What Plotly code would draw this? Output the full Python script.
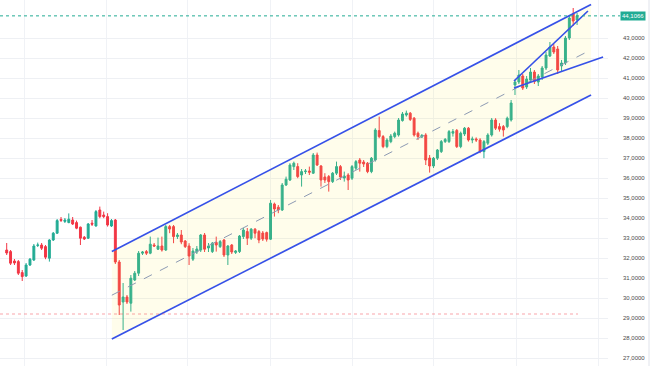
import plotly.graph_objects as go

# ---------------- data (prices) ----------------
opens = [
    32.40, 32.32, 31.85, 31.82, 31.27, 31.10, 31.65, 31.90, 32.63, 32.65,
    32.57, 31.99, 32.90, 33.24, 33.93, 33.83, 33.77, 33.90, 33.77, 33.54,
    33.04, 32.99, 33.74, 33.60, 34.40, 34.15, 34.07, 33.60, 33.90, 31.80,
    29.80, 30.05, 29.74, 30.90, 31.24, 32.24, 32.32, 32.24, 32.65, 32.44,
    32.60, 32.40, 33.57, 33.57, 33.07, 33.15, 32.85, 32.60, 31.94, 32.30,
    32.40, 33.15, 32.50, 32.32, 32.78, 32.57, 32.90, 32.15, 32.65, 32.28,
    32.32, 33.07, 33.32, 32.99, 33.44, 33.32, 33.25, 33.27, 32.94, 34.70,
    34.54, 34.40, 35.65, 35.90, 36.57, 36.57, 36.15, 36.32, 36.35, 36.24,
    37.15, 36.60, 36.05, 36.07, 35.82, 36.24, 36.57, 36.00, 36.15, 35.99,
    36.49, 36.90, 36.80, 36.74, 36.32, 36.90, 38.37, 38.07, 37.57, 37.82,
    38.07, 38.15, 38.87, 39.15, 39.24, 38.99, 38.24, 38.05, 38.15, 37.00,
    36.60, 36.99, 37.32, 37.82, 37.82, 38.24, 38.38, 37.57, 38.20, 38.49,
    37.90, 37.95, 37.90, 37.32, 37.74, 38.15, 38.90, 38.57, 38.57, 38.57,
    38.90, 40.65, 40.80, 41.10, 40.55, 40.90, 41.30, 40.80, 41.05, 41.50,
    42.10, 42.55, 42.45, 41.60, 41.75, 43.00, 44.20, 43.90,
]
highs = [
    32.75, 32.40, 31.95, 31.90, 31.40, 31.75, 32.00, 32.70, 32.77, 32.75,
    32.65, 32.94, 33.30, 33.95, 34.05, 34.00, 34.23, 34.05, 33.87, 33.57,
    33.10, 33.75, 33.90, 34.40, 34.57, 34.32, 34.24, 33.95, 33.95, 31.90,
    30.75, 30.15, 31.15, 31.35, 32.35, 32.35, 32.40, 33.07, 32.75, 33.02,
    33.07, 33.65, 33.65, 33.65, 33.25, 33.40, 32.90, 32.74, 32.50, 32.60,
    33.20, 33.25, 32.75, 32.80, 33.07, 32.90, 32.95, 32.65, 32.70, 32.40,
    33.15, 33.50, 33.50, 33.50, 33.50, 33.40, 33.35, 33.32, 34.90, 34.77,
    34.65, 35.75, 36.07, 36.74, 36.82, 36.74, 36.45, 36.45, 36.57, 37.25,
    37.27, 36.65, 36.24, 36.15, 36.30, 36.82, 36.65, 36.32, 36.24, 36.65,
    36.90, 37.00, 36.90, 36.80, 37.05, 38.49, 39.07, 38.15, 37.99, 38.20,
    38.32, 39.00, 39.30, 39.37, 39.30, 39.05, 38.32, 38.20, 38.24, 37.15,
    37.05, 37.45, 37.90, 38.00, 38.40, 38.45, 38.45, 38.32, 38.55, 38.55,
    38.07, 38.03, 37.99, 37.90, 38.24, 39.00, 38.99, 38.74, 38.65, 39.07,
    39.90, 40.90, 41.40, 41.20, 41.10, 41.50, 41.40, 41.20, 41.60, 42.30,
    42.80, 42.70, 42.60, 41.90, 43.10, 44.10, 44.50, 44.25,
]
lows = [
    32.15, 31.65, 31.65, 31.15, 30.85, 31.05, 31.60, 31.85, 32.55, 32.40,
    31.94, 31.82, 32.85, 33.20, 33.80, 33.75, 33.74, 33.65, 33.44, 32.65,
    32.90, 32.95, 33.60, 33.57, 33.99, 33.99, 33.57, 33.55, 31.70, 29.15,
    28.40, 29.70, 29.32, 30.85, 31.10, 32.15, 32.15, 32.19, 32.55, 32.40,
    32.32, 32.35, 33.24, 32.74, 32.95, 32.69, 32.50, 31.65, 31.85, 32.20,
    32.30, 32.30, 32.30, 32.25, 32.32, 32.50, 32.05, 31.65, 32.20, 32.20,
    32.25, 32.95, 32.65, 32.90, 32.99, 32.74, 32.85, 32.82, 32.90, 34.07,
    34.24, 34.35, 35.60, 35.85, 36.40, 35.99, 35.57, 36.20, 36.15, 36.20,
    36.60, 35.57, 35.75, 35.32, 35.75, 36.15, 35.90, 35.82, 35.40, 35.90,
    36.40, 36.32, 36.55, 36.24, 36.24, 36.82, 37.99, 37.49, 37.49, 37.74,
    37.99, 38.07, 38.82, 39.07, 38.85, 38.07, 37.90, 38.00, 36.65, 36.27,
    36.50, 36.90, 37.25, 37.75, 37.75, 38.07, 37.50, 37.49, 38.10, 37.82,
    37.74, 37.80, 37.24, 36.99, 37.65, 38.07, 38.40, 38.32, 38.07, 38.49,
    38.82, 40.15, 40.70, 40.40, 40.45, 40.80, 40.70, 40.60, 40.90, 41.40,
    42.05, 42.20, 41.20, 41.30, 41.65, 42.90, 43.60, 43.65,
]
closes = [
    32.25, 31.74, 31.75, 31.24, 31.07, 31.65, 31.94, 32.60, 32.65, 32.49,
    32.04, 32.90, 33.24, 33.87, 33.88, 33.90, 33.94, 33.70, 33.49, 32.99,
    32.95, 33.70, 33.69, 34.32, 34.07, 34.07, 33.65, 33.87, 31.80, 29.65,
    30.05, 29.80, 30.99, 31.24, 32.24, 32.30, 32.24, 32.69, 32.60, 32.60,
    32.40, 33.57, 33.45, 33.07, 33.15, 32.80, 32.57, 32.10, 32.35, 32.45,
    33.15, 32.44, 32.60, 32.74, 32.65, 32.82, 32.15, 32.60, 32.30, 32.35,
    33.10, 33.40, 32.99, 33.44, 33.24, 32.90, 32.95, 32.94, 34.74, 34.45,
    34.40, 35.65, 35.94, 36.65, 36.74, 36.07, 36.32, 36.35, 36.29, 37.15,
    36.65, 35.90, 35.90, 35.82, 36.24, 36.57, 36.05, 36.10, 35.90, 36.57,
    36.82, 36.74, 36.70, 36.32, 36.99, 38.40, 38.07, 37.57, 37.90, 38.10,
    38.24, 38.90, 39.20, 39.24, 38.93, 38.15, 38.07, 38.13, 36.90, 36.60,
    36.99, 37.40, 37.82, 37.93, 38.32, 38.32, 37.57, 38.24, 38.49, 37.90,
    37.95, 37.90, 37.32, 37.82, 38.15, 38.90, 38.49, 38.44, 38.40, 38.99,
    39.75, 40.80, 41.15, 40.50, 40.95, 41.30, 40.82, 41.10, 41.50, 42.15,
    42.55, 42.30, 41.40, 41.75, 43.00, 44.00, 43.85, 44.1066,
]
bars = list(range(len(closes)))

# drawing anchors (bar index, price)
channel_x = [27.1, 150.6]
channel_upper = [32.33, 44.68]
channel_lower = [27.95, 40.15]
channel_mid = [30.14, 42.41]
wedge_upper_x = [130.75, 149.8]
wedge_upper = [40.85, 44.35]
wedge_lower_x = [130.75, 153.7]
wedge_lower = [40.50, 42.05]
support_level = 29.2
last_price = closes[-1]
last_price_text = "44,1066"

price_ticks = [27, 28, 29, 30, 31, 32, 33, 34, 35, 36, 37, 38, 39, 40, 41, 42, 43]
price_tick_text = ["27,0000", "28,0000", "29,0000", "30,0000", "31,0000", "32,0000",
                   "33,0000", "34,0000", "35,0000", "36,0000", "37,0000", "38,0000",
                   "39,0000", "40,0000", "41,0000", "42,0000", "43,0000"]
month_lines = [4.5, 25.6, 46.7, 67.9, 89.0, 110.1, 131.3, 152.4]

UP = "#22ab94"
DOWN = "#f23645"
BLUE = "#3651e8"

fig = go.Figure()

# channel fill
fig.add_trace(go.Scatter(
    x=[channel_x[0], channel_x[1], channel_x[1], channel_x[0], channel_x[0]],
    y=[channel_upper[0], channel_upper[1], channel_lower[1], channel_lower[0], channel_upper[0]],
    fill="toself", fillcolor="rgba(255,235,59,0.10)", line=dict(width=0),
    mode="lines", hoverinfo="skip", showlegend=False))

fig.add_trace(go.Scatter(x=channel_x, y=channel_mid, mode="lines",
                         line=dict(color="#8d9ab3", width=1, dash="dash"),
                         hoverinfo="skip", showlegend=False))

fig.add_trace(go.Candlestick(
    x=bars, open=opens, high=highs, low=lows, close=closes,
    increasing=dict(line=dict(color=UP, width=1), fillcolor=UP),
    decreasing=dict(line=dict(color=DOWN, width=1), fillcolor=DOWN),
    whiskerwidth=0, showlegend=False))

for xs, ys in [(channel_x, channel_upper), (channel_x, channel_lower),
               (wedge_upper_x, wedge_upper), (wedge_lower_x, wedge_lower)]:
    fig.add_trace(go.Scatter(x=xs, y=ys, mode="lines",
                             line=dict(color=BLUE, width=1.7),
                             hoverinfo="skip", showlegend=False))

PLOT_W = 608
fig.update_layout(
    width=654, height=366,
    margin=dict(l=0, r=654 - PLOT_W, t=0, b=0),
    paper_bgcolor="white", plot_bgcolor="white",
    font=dict(family="Liberation Sans, Arial, sans-serif"),
    xaxis=dict(range=[-1.727, 154.97], rangeslider=dict(visible=False),
               showticklabels=False, tickvals=month_lines, showgrid=True,
               gridcolor="#f0f2f6", gridwidth=1, zeroline=False, showline=False,
               fixedrange=True),
    yaxis=dict(range=[26.6, 44.9], side="right", tickvals=price_ticks,
               ticktext=price_tick_text, showgrid=True, gridcolor="#eef0f4",
               gridwidth=1, zeroline=False, showline=False, ticks="",
               ticklabelstandoff=14,
               tickfont=dict(size=6, color="#4a4a4a"), fixedrange=True),
    shapes=[
        dict(type="line", xref="paper", yref="y", x0=0, x1=620 / PLOT_W,
             y0=last_price, y1=last_price, line=dict(color=UP, width=1, dash="dot")),
        dict(type="line", xref="paper", yref="y", x0=0, x1=578 / PLOT_W,
             y0=support_level, y1=support_level,
             line=dict(color="rgba(242,54,69,0.45)", width=1, dash="dot")),
        dict(type="line", xref="paper", yref="paper", x0=649 / PLOT_W, x1=649 / PLOT_W,
             y0=0, y1=1, line=dict(color="#e0e3eb", width=1)),
    ],
    annotations=[
        dict(xref="paper", yref="y", x=632.5 / PLOT_W, y=last_price, text=last_price_text,
             showarrow=False, xanchor="center", yanchor="middle",
             font=dict(size=6, color="white"), bgcolor=UP, borderpad=1),
    ],
)

fig.write_html("out.html",
               config={"displayModeBar": False, "staticPlot": True},
               post_script="document.body.style.margin='0';document.body.style.overflow='hidden';")
